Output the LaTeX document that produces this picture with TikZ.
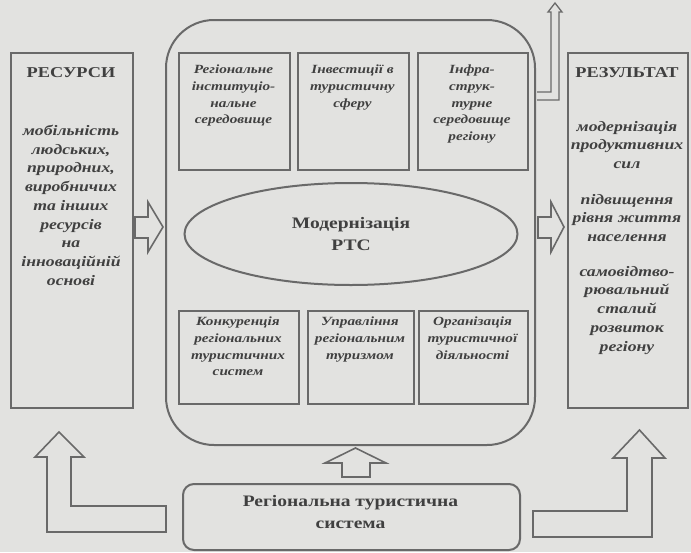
\documentclass[tikz,border=0pt]{standalone}
\usepackage{fontspec}
\setmainfont{Liberation Serif}[FakeStretch=1.22]
\usetikzlibrary{shapes.geometric}
\definecolor{bg}{RGB}{226,226,224}
\definecolor{ln}{RGB}{105,105,105}
\definecolor{tx}{RGB}{64,64,64}
\begin{document}
\begin{tikzpicture}[x=1pt,y=-1pt,
  frame/.style={draw=ln, line width=2pt},
  box/.style={frame, rectangle, inner sep=0pt, anchor=north west},
  head/.style={font=\fontsize{15}{18}\selectfont\bfseries, text=tx, anchor=base, inner sep=0pt},
  itm/.style={font=\fontsize{14.5}{18.7}\selectfont\bfseries\itshape, text=tx, align=center, anchor=north, inner sep=0pt},
  sml/.style={font=\fontsize{12.5}{16.6}\selectfont\bfseries\itshape, text=tx, align=center, anchor=north, inner sep=0pt},
  big/.style={font=\fontsize{16}{21.5}\selectfont\bfseries, text=tx, align=center, inner sep=0pt},
  blk/.style={draw=ln, line width=1.6pt, line join=miter},
]
\useasboundingbox (0,0) rectangle (691,552);
\fill[bg] (0,0) rectangle (691,552);

% side boxes
\node[box, minimum width=122pt, minimum height=355pt] (res) at (10,52) {};
\node[box, minimum width=120pt, minimum height=355pt] (rez) at (567,52) {};
\node[head] (resH) at (71,77) {РЕСУРСИ};
\node[head] (rezH) at (627,77) {РЕЗУЛЬТАТ};
\node[itm] (resT) at (71,125) {мобільність\\людських,\\природних,\\виробничих\\та інших\\ресурсів\\на\\інноваційній\\основі};
\node[itm] (rez1) at (627,121) {модернізація\\продуктивних\\сил};
\node[itm] (rez2) at (627,194) {підвищення\\рівня життя\\населення};
\node[itm] (rez3) at (627,266) {самовідтво-\\рювальний\\сталий\\розвиток\\регіону};

% central rounded frame
\draw[frame, rounded corners=48pt] (166,20) rectangle (535,445);

% top boxes
\node[box, minimum width=111pt, minimum height=117pt] (a1) at (178,52) {};
\node[box, minimum width=111pt, minimum height=117pt] (a2) at (297,52) {};
\node[box, minimum width=110pt, minimum height=117pt] (a3) at (417,52) {};
\node[sml] (a1t) at (233.5,65) {Регіональне\\інституціо-\\нальне\\середовище};
\node[sml] (a2t) at (352.5,65) {Інвестиції в\\туристичну\\сферу};
\node[sml] (a3t) at (472,65) {Інфра-\\струк-\\турне\\середовище\\регіону};

% ellipse
\node[ellipse, draw=ln, line width=2pt, minimum width=333pt, minimum height=102pt, big] (ell) at (351,234) {Модернізація\\РТС};

% bottom boxes
\node[box, minimum width=120pt, minimum height=93pt] (b1) at (178,310) {};
\node[box, minimum width=106pt, minimum height=93pt] (b2) at (307,310) {};
\node[box, minimum width=109pt, minimum height=93pt] (b3) at (418,310) {};
\node[sml] (b1t) at (238,317) {Конкуренція\\регіональних\\туристичних\\систем};
\node[sml] (b2t) at (360,317) {Управління\\регіональним\\туризмом};
\node[sml] (b3t) at (472.5,317) {Організація\\туристичної\\діяльності};

% bottom system box
\node[frame, rounded corners=11pt, minimum width=337pt, minimum height=66pt, anchor=north west, inner sep=0pt] (rts) at (182,483) {};
\node[big] (rtsT) at (350.5,512) {Регіональна туристична\\система};

% block arrows
\draw[blk] (135,217) -- (148,217) -- (148,202) -- (163,227) -- (148,252) -- (148,238) -- (135,238) -- cycle;
\draw[blk] (538,217) -- (551,217) -- (551,202) -- (564,227) -- (551,252) -- (551,238) -- (538,238) -- cycle;
\draw[blk] (342,477) -- (342,463) -- (325,463) -- (355.5,448) -- (386,463) -- (370,463) -- (370,477) -- cycle;
\draw[blk] (166,506) -- (71,506) -- (71,457) -- (84,457) -- (59,432) -- (35,457) -- (47,457) -- (47,532) -- (166,532) -- cycle;
\draw[blk] (533,511) -- (627,511) -- (627,458) -- (613,458) -- (639.5,430) -- (665,458) -- (652,458) -- (652,537) -- (533,537) -- cycle;
\draw[blk, line width=1.3pt] (537,92) -- (551,92) -- (551,12) -- (548,12) -- (555,3) -- (562,12) -- (559,12) -- (559,100) -- (537,100);
\end{tikzpicture}
\end{document}
